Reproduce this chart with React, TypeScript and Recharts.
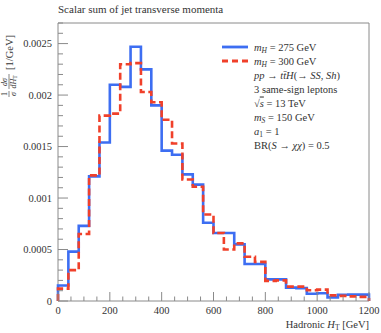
import { LineChart, Line, XAxis, YAxis, ReferenceArea } from "recharts";

// lower edges of the 40 GeV bins
const binEdges = [
  0, 40, 80, 120, 160, 200, 240, 280, 320, 360, 400, 440, 480, 520, 560,
  600, 640, 680, 720, 760, 800, 840, 880, 920, 960, 1000, 1040, 1080, 1120, 1160,
];
const xEnd = 1200;

// m_H = 275 GeV (blue, solid)
const mh275 = [
  0.00015, 0.00048, 0.00073, 0.00121, 0.00154, 0.0021, 0.00208, 0.00247, 0.00225, 0.0019,
  0.00146, 0.00142, 0.00123, 0.00113, 0.00076, 0.00066, 0.00066, 0.00055, 0.00036, 0.00036,
  0.00021, 0.00021, 0.00013, 0.000125, 0.00007, 0.000075, 0.000035, 0.00006, 0.000062, 0.000062,
];
// m_H = 300 GeV (red, dashed)
const mh300 = [
  0.00012, 0.0003, 0.00065, 0.00122, 0.0018, 0.00182, 0.0023, 0.00231, 0.00203, 0.00193,
  0.00176, 0.00153, 0.00118, 0.00111, 0.00084, 0.00066, 0.0005, 0.00056, 0.00043, 0.00038,
  0.000195, 0.0002, 0.00014, 0.00014, 0.000105, 0.00011, 0.000055, 0.00005, 0.000045, 0.00004,
];

const xMajor = [0, 200, 400, 600, 800, 1000, 1200];
const yMajor = [0, 0.0005, 0.001, 0.0015, 0.002, 0.0025];
const yLabels = ["0", "0.0005", "0.001", "0.0015", "0.002", "0.0025"];
const yMax = 0.0027;

// minor ticks: every 50 GeV on x, every 0.0001 on y
const xTicks = Array.from({ length: 25 }, (_, i) => i * 50);
const yTicks = Array.from({ length: 28 }, (_, i) => i / 10000);

const data = [
  { x: 0, a: 0, b: 0 },
  ...binEdges.map((e, i) => ({ x: e, a: mh275[i], b: mh300[i] })),
  { x: xEnd, a: 0, b: 0 },
];

const BLUE = "#3d6ef2";
const RED = "#f0402a";
const AXIS = "#8a8a8a";
const TXT = "#333";
const FONT = "'Liberation Serif', 'Times New Roman', serif";

const YTick = (props: any) => {
  const { x, y, payload } = props;
  const v = payload.value;
  const idx = yMajor.findIndex((m) => Math.abs(m - v) < 1e-9);
  const ax = x + 6;
  return (
    <g>
      <line x1={ax} x2={ax + (idx >= 0 ? 10 : 5)} y1={y} y2={y} stroke={AXIS} />
      {idx >= 0 && (
        <text x={x} y={y} dy={3.5} textAnchor="end" fontSize={10.5} fontFamily={FONT} fill={TXT}>
          {yLabels[idx]}
        </text>
      )}
    </g>
  );
};

const XTick = (props: any) => {
  const { x, y, payload } = props;
  const v = payload.value;
  const major = xMajor.includes(v);
  const ay = y - 4;
  return (
    <g>
      <line x1={x} x2={x} y1={ay} y2={ay - (major ? 9 : 4.5)} stroke={AXIS} />
      {major && (
        <text x={x} y={y} dy={9} textAnchor="middle" fontSize={10.5} fontFamily={FONT} fill={TXT}>
          {v}
        </text>
      )}
    </g>
  );
};

export default function App() {
  const lx = 254;
  const row = (i: number) => 47 + i * 14;
  return (
    <div style={{ position: "absolute", left: 0, top: 0, width: 381, height: 333, background: "#fff" }}>
      <LineChart width={381} height={333} data={data} margin={{ top: 23, right: 12, bottom: 2, left: 0 }}>
        <XAxis
          dataKey="x"
          type="number"
          domain={[0, xEnd]}
          ticks={xTicks}
          interval={0}
          tickSize={0}
          tickMargin={4}
          axisLine={false}
          tick={<XTick />}
          height={30}
        />
        <YAxis
          type="number"
          domain={[0, yMax]}
          ticks={yTicks}
          interval={0}
          tickSize={0}
          tickMargin={6}
          axisLine={false}
          tick={<YTick />}
          width={58}
        />
        <ReferenceArea x1={0} x2={xEnd} y1={0} y2={yMax} fill="none" stroke={AXIS} strokeWidth={1} ifOverflow="visible" />
        <Line dataKey="a" type="stepAfter" stroke={BLUE} strokeWidth={2.6} dot={false} isAnimationActive={false} />
        <Line dataKey="b" type="stepAfter" stroke={RED} strokeWidth={2.6} strokeDasharray="7 3.5" dot={false} isAnimationActive={false} />
      </LineChart>

      <svg width={381} height={333} style={{ position: "absolute", left: 0, top: 0, pointerEvents: "none" }} fontFamily={FONT} fill={TXT}>
        <text x={58} y={13} fontSize={11}>Scalar sum of jet transverse momenta</text>

        <text x={369} y={328} fontSize={10.5} textAnchor="end">
          Hadronic <tspan fontStyle="italic">H</tspan>
          <tspan fontSize={7.5} dy={2}>T</tspan>
          <tspan dy={-2}> [GeV]</tspan>
        </text>

        <g transform="translate(9, 97) rotate(-90)">
          <text x={3} y={-2} fontSize={8} textAnchor="middle">1</text>
          <line x1={0} x2={6} y1={0} y2={0} stroke={TXT} strokeWidth={0.6} />
          <text x={3} y={6.5} fontSize={8} textAnchor="middle" fontStyle="italic">σ</text>
          <text x={15} y={-2} fontSize={8} textAnchor="middle" fontStyle="italic">dσ</text>
          <line x1={8} x2={23} y1={0} y2={0} stroke={TXT} strokeWidth={0.6} />
          <text x={15} y={6.5} fontSize={8} textAnchor="middle" fontStyle="italic">
            dH<tspan fontSize={5.5} dy={1.5} fontStyle="normal">T</tspan>
          </text>
          <text x={27} y={3.5} fontSize={10.5}>[1/GeV]</text>
        </g>

        <line x1={222} x2={248} y1={row(0)} y2={row(0)} stroke={BLUE} strokeWidth={2.8} />
        <line x1={222} x2={248} y1={row(1)} y2={row(1)} stroke={RED} strokeWidth={2.8} strokeDasharray="6 4" />
        <text x={lx} y={row(0) + 3.5} fontSize={10.5}>
          <tspan fontStyle="italic">m</tspan>
          <tspan fontSize={7.5} dy={2} fontStyle="italic">H</tspan>
          <tspan dy={-2}> = 275 GeV</tspan>
        </text>
        <text x={lx} y={row(1) + 3.5} fontSize={10.5}>
          <tspan fontStyle="italic">m</tspan>
          <tspan fontSize={7.5} dy={2} fontStyle="italic">H</tspan>
          <tspan dy={-2}> = 300 GeV</tspan>
        </text>
        <text x={lx} y={row(2) + 3.5} fontSize={10.5}>
          <tspan fontStyle="italic">pp</tspan> → <tspan fontStyle="italic">t{"t\u0304"}H</tspan>(→ <tspan fontStyle="italic">SS</tspan>, <tspan fontStyle="italic">Sh</tspan>)
        </text>
        <text x={lx} y={row(3) + 3.5} fontSize={10.5}>3 same-sign leptons</text>
        <text x={lx} y={row(4) + 3.5} fontSize={10.5}>
          √<tspan fontStyle="italic" textDecoration="overline">s</tspan> = 13 TeV
        </text>
        <text x={lx} y={row(5) + 3.5} fontSize={10.5}>
          <tspan fontStyle="italic">m</tspan>
          <tspan fontSize={7.5} dy={2} fontStyle="italic">S</tspan>
          <tspan dy={-2}> = 150 GeV</tspan>
        </text>
        <text x={lx} y={row(6) + 3.5} fontSize={10.5}>
          <tspan fontStyle="italic">a</tspan>
          <tspan fontSize={7.5} dy={2}>1</tspan>
          <tspan dy={-2}> = 1</tspan>
        </text>
        <text x={lx} y={row(7) + 3.5} fontSize={10.5}>
          BR(<tspan fontStyle="italic">S</tspan> → <tspan fontStyle="italic">χχ</tspan>) = 0.5
        </text>
      </svg>
    </div>
  );
}
